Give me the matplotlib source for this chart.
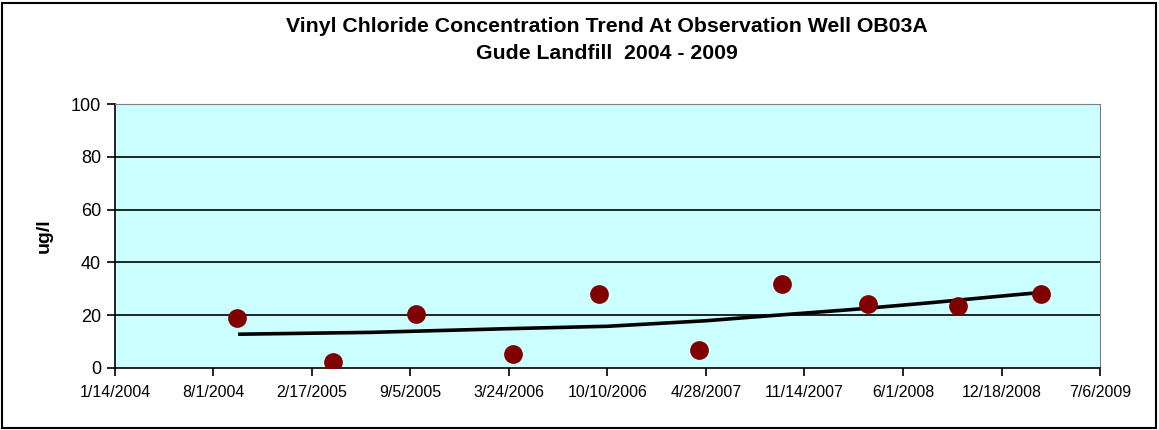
import matplotlib
matplotlib.use("Agg")
import matplotlib.pyplot as plt
import pandas as pd
from matplotlib.patches import Rectangle

plt.rcParams['font.family'] = ['Liberation Sans', 'DejaVu Sans']

# sample dates and vinyl chloride values (ug/l)
sample_dates = ['2004-09-17', '2005-04-01', '2005-09-16', '2006-04-01', '2006-09-23',
                '2007-04-14', '2007-09-30', '2008-03-21', '2008-09-20', '2009-03-08']
vc_values = [19.0, 2.2, 20.5, 5.2, 27.9, 6.8, 31.7, 24.2, 23.5, 27.9]

# trend line
trend_dates = ['2004-09-20', '2005-06-18', '2006-03-24', '2006-10-10', '2007-04-28',
               '2007-09-05', '2008-02-22', '2008-07-31', '2009-01-07', '2009-03-08']
trend_values = [12.8, 13.5, 14.9, 15.8, 17.9, 19.8, 22.2, 24.8, 27.6, 28.6]

tick_labels = ['1/14/2004', '8/1/2004', '2/17/2005', '9/5/2005', '3/24/2006', '10/10/2006',
               '4/28/2007', '11/14/2007', '6/1/2008', '12/18/2008', '7/6/2009']
y_ticks = [0, 20, 40, 60, 80, 100]

x = pd.to_datetime(sample_dates)
xt = pd.to_datetime(trend_dates)
ticks = pd.to_datetime(tick_labels, format='%m/%d/%Y')

fig = plt.figure(figsize=(11.59, 4.30), dpi=100)
ax = fig.add_axes([0.0992, 0.1442, 0.8499, 0.6139])
ax.set_facecolor('#CCFFFF')

# horizontal gridlines
for v in y_ticks[1:-1]:
    ax.axhline(v, color='black', lw=1.2, zorder=1)

ax.plot(xt, trend_values, color='black', lw=2.6, zorder=2, solid_capstyle='butt')
ax.plot(x, vc_values, 'o', color='#800000', markersize=13.5, markeredgewidth=0, zorder=3)

ax.set_xlim(ticks[0], ticks[-1])
ax.set_ylim(0, 100)
ax.set_xticks(ticks)
ax.set_xticklabels(tick_labels, fontsize=11.5)
ax.set_yticks(y_ticks)
ax.set_yticklabels([str(v) for v in y_ticks], fontsize=13)
ax.tick_params(axis='both', direction='out', length=6, width=1.2, color='black', pad=4)
ax.tick_params(axis='x', pad=6)

ax.spines['left'].set_color('black')
ax.spines['bottom'].set_color('black')
ax.spines['left'].set_linewidth(1.2)
ax.spines['bottom'].set_linewidth(1.2)
ax.spines['top'].set_color('#808080')
ax.spines['right'].set_color('#808080')

ax.set_ylabel('ug/l', fontsize=14, fontweight='bold', labelpad=13)

fig.text(0.524, 0.939, 'Vinyl Chloride Concentration Trend At Observation Well OB03A',
         ha='center', va='center', fontsize=15.3, fontweight='bold')
fig.text(0.524, 0.876, 'Gude Landfill  2004 - 2009',
         ha='center', va='center', fontsize=15.3, fontweight='bold')

# chart area border
fig.patches.append(Rectangle((0.002, 0.004), 0.995, 0.99, transform=fig.transFigure,
                             fill=False, edgecolor='black', lw=1.5))

fig.savefig('out.png', dpi=100)
